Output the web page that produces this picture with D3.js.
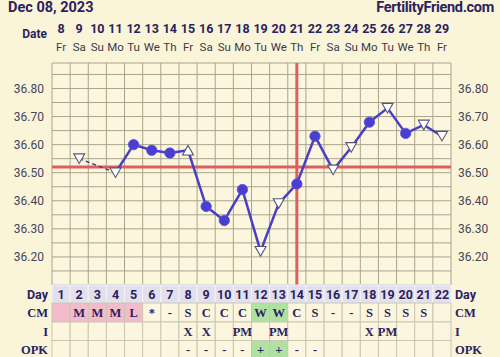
<!DOCTYPE html>
<html><head><meta charset="utf-8">
<script src="https://cdn.jsdelivr.net/npm/d3@7"></script>
<style>
html,body{margin:0;padding:0;background:#faf4d8;}
svg{display:block;}
</style></head>
<body>
<svg id="c" width="500" height="357"></svg>
<script>
const days = d3.range(1, 23);
const dates = [8,9,10,11,12,13,14,15,16,17,18,19,20,21,22,23,24,25,26,27,28,29];
const weekdays = ["Fr","Sa","Su","Mo","Tu","We","Th","Fr","Sa","Su","Mo","Tu","We","Th","Fr","Sa","Su","Mo","Tu","We","Th","Fr"];
const temps = [null,36.55,null,36.50,36.60,36.58,36.57,36.58,36.38,36.33,36.44,36.22,36.39,36.46,36.63,36.51,36.59,36.68,36.73,36.64,36.67,36.63];
const markers = [null,"down",null,"down","circle","circle","circle","up","circle","circle","circle","down","down","circle","circle","down","down","circle","down","circle","down","down"];
const yTicks = [36.20,36.30,36.40,36.50,36.60,36.70,36.80];
const coverline = 36.52;
const ovulationDay = 14;
const cm = ["","M","M","M","L","*","-","S","C","C","C","W","W","C","S","-","-","S","S","S","S",""];
const cmBg = ["p","p","p","p","p","","","","","","","g","g","","","","","","","","",""];
const intercourse = ["","","","","","","","X","X","","PM","","PM","","","","","X","PM","","",""];
const opk = ["","","","","","","","-","-","-","-","+","+","-","-","","","","","","",""];
const opkBg = ["","","","","","","","","","","","g","g","","","","","","","","",""];

const svg = d3.select("#c");
const L = 52, R = 451, T = 63, B = 285;
const x = d3.scaleBand().domain(days).range([L, R]);
const y = d3.scaleLinear().domain([36.10, 36.90]).range([B, 60.4]);
const cx = d => x(d) + x.bandwidth()/2;
const navy = "#2a225e";
const gridCol = "#a9a58c";

// plot background
svg.append("rect").attr("x", L).attr("y", T).attr("width", R-L).attr("height", B-T).attr("fill", "#fbf6dd");

// header
svg.append("text").attr("x", 8).attr("y", 12).attr("font-family", "Roboto, sans-serif").attr("font-weight", "bold")
  .attr("font-size", 14.5).attr("fill", navy).text("Dec 08, 2023");
svg.append("text").attr("x", 494).attr("y", 12).attr("text-anchor", "end").attr("font-family", "Roboto, sans-serif").attr("font-weight", "bold")
  .attr("font-size", 14.5).attr("fill", navy).attr("letter-spacing", -0.3).text("FertilityFriend.com");

svg.append("text").attr("x", 47).attr("y", 38).attr("text-anchor", "end").attr("font-family", "Roboto, sans-serif").attr("font-weight", "bold")
  .attr("font-size", 12).attr("fill", navy).text("Date");
svg.selectAll("text.dn").data(days).join("text").attr("class", "dn")
  .attr("x", cx).attr("y", 33).attr("text-anchor", "middle").attr("font-family", "Roboto, sans-serif").attr("font-weight", "bold")
  .attr("font-size", 12.5).attr("fill", navy).text((d,i) => dates[i]);
svg.selectAll("text.wd").data(days).join("text").attr("class", "wd")
  .attr("x", cx).attr("y", 51).attr("text-anchor", "middle").attr("font-family", "Roboto, sans-serif")
  .attr("font-size", 11.5).attr("fill", "#3a3a4a").text((d,i) => weekdays[i]);

// horizontal grid every 0.05
const hLines = d3.range(0, 16).map(i => +(36.10 + i*0.05).toFixed(2));
svg.append("g").selectAll("line").data(hLines).join("line")
  .attr("x1", L).attr("x2", R).attr("y1", d => y(d)).attr("y2", d => y(d))
  .attr("stroke", gridCol).attr("stroke-width", 1);
// vertical grid
const vEdges = days.map(d => x(d)).concat([R]);
svg.append("g").selectAll("line").data(vEdges).join("line")
  .attr("x1", d => d).attr("x2", d => d).attr("y1", T).attr("y2", B)
  .attr("stroke", gridCol).attr("stroke-width", 1);
svg.append("line").attr("x1", L).attr("x2", R).attr("y1", T).attr("y2", T).attr("stroke", gridCol);

// axes
const fmt = d3.format(".2f");
const ax1 = svg.append("g").attr("transform", `translate(${L-5},0)`)
  .call(d3.axisLeft(y).tickValues(yTicks).tickFormat(fmt).tickSize(0));
const ax2 = svg.append("g").attr("transform", `translate(${R+4},0)`)
  .call(d3.axisRight(y).tickValues(yTicks).tickFormat(fmt).tickSize(0));
[ax1, ax2].forEach(a => {
  a.select(".domain").remove();
  a.selectAll("text").attr("font-family", "Roboto, sans-serif").attr("font-size", 12).attr("fill", "#45455a");
});

// coverline & ovulation line
svg.append("line").attr("x1", L).attr("x2", R).attr("y1", y(coverline)).attr("y2", y(coverline))
  .attr("stroke", "#de5d5d").attr("stroke-width", 3);
svg.append("line").attr("x1", cx(ovulationDay)).attr("x2", cx(ovulationDay)).attr("y1", T).attr("y2", B)
  .attr("stroke", "#de5d5d").attr("stroke-width", 3);

// lines
const pts = days.map((d,i) => ({d, t: temps[i], m: markers[i]})).filter(p => p.t != null);
const line = d3.line().x(p => cx(p.d)).y(p => y(p.t));
// dashed over missing day
svg.append("path").attr("d", line([pts[0], pts[1]])).attr("fill", "none")
  .attr("stroke", "#3b3570").attr("stroke-width", 1.3).attr("stroke-dasharray", "4,3");
svg.append("path").attr("d", line(pts.slice(1))).attr("fill", "none")
  .attr("stroke", "#4a3ec6").attr("stroke-width", 2.5).attr("stroke-linejoin", "round");

// markers
pts.forEach(p => {
  const px = cx(p.d), py = y(p.t);
  if (p.m === "circle") {
    svg.append("circle").attr("cx", px).attr("cy", py).attr("r", 5.2).attr("fill", "#4a3ed0").attr("stroke", "#5b50e0").attr("stroke-width", 0.8);
  } else {
    const w = 5.5, h = 4.8;
    const path = p.m === "down"
      ? `M${px-w},${py-h}L${px+w},${py-h}L${px},${py+h}Z`
      : `M${px-w},${py+h}L${px+w},${py+h}L${px},${py-h}Z`;
    svg.append("path").attr("d", path).attr("fill", "#ffffff").attr("stroke", "#55557a").attr("stroke-width", 1.1);
  }
});

// table
const rows = [
  {label: "Day", top: 285, h: 18, vals: days.map(String), bg: days.map(() => "d")},
  {label: "CM", top: 303, h: 19, vals: cm, bg: cmBg},
  {label: "I", top: 322, h: 18.5, vals: intercourse, bg: days.map(() => "")},
  {label: "OPK", top: 340.5, h: 17.5, vals: opk, bg: opkBg}
];
const bgCol = {d: "#e2e0ec", p: "#f3bccb", g: "#afe1a2", "": "#fbf6dd"};
rows.forEach((r, ri) => {
  const g = svg.append("g");
  g.selectAll("rect").data(days).join("rect")
    .attr("x", d => x(d)).attr("y", r.top).attr("width", x.bandwidth()).attr("height", r.h)
    .attr("fill", (d,i) => bgCol[r.bg[i]]).attr("stroke", ri === 0 ? "#f4f2f8" : "#c9c6b4").attr("stroke-width", 1);
  const isDay = ri === 0;
  const fam = isDay ? "Roboto, sans-serif" : "'Liberation Serif', serif";
  g.selectAll("text").data(days).join("text")
    .attr("x", cx).attr("y", r.top + r.h/2 + 4.5).attr("text-anchor", "middle")
    .attr("font-family", fam).attr("font-weight", "bold").attr("font-size", isDay ? 12.5 : 12.5)
    .attr("fill", navy).text((d,i) => r.vals[i]);
  svg.append("text").attr("x", 48).attr("y", r.top + r.h/2 + 4.5).attr("text-anchor", "end")
    .attr("font-family", fam).attr("font-weight", "bold").attr("font-size", 12.5).attr("fill", navy).text(r.label);
  svg.append("text").attr("x", 455).attr("y", r.top + r.h/2 + 4.5).attr("text-anchor", "start")
    .attr("font-family", fam).attr("font-weight", "bold").attr("font-size", 12.5).attr("fill", navy).text(r.label);
});
</script>
</body></html>
